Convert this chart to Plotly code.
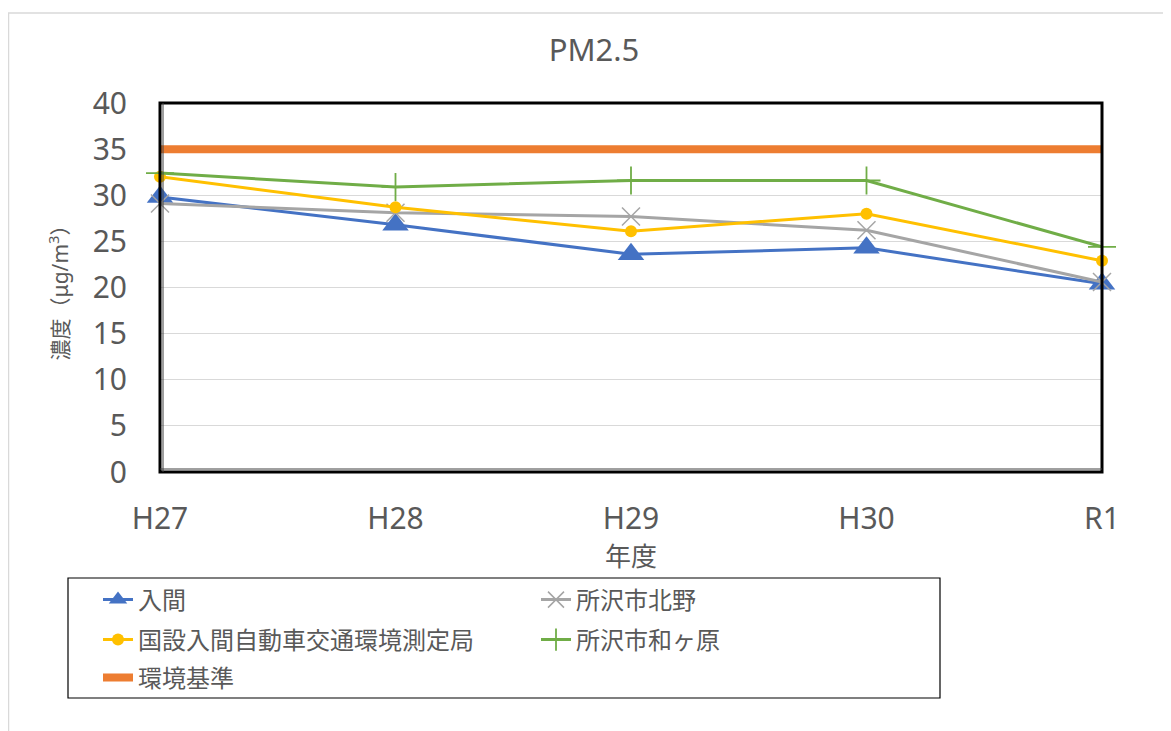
import plotly.graph_objects as go

# ── data ──────────────────────────────────────────────────────────────────────
years = ["H27", "H28", "H29", "H30", "R1"]

iruma = [29.8, 26.8, 23.6, 24.3, 20.4]
kitano = [29.1, 28.1, 27.7, 26.2, 20.6]
kokusetsu = [32.0, 28.7, 26.1, 28.0, 22.9]
wagahara = [32.4, 30.9, 31.6, 31.6, 24.4]
standard = [35, 35, 35, 35, 35]

# ── layout helpers ────────────────────────────────────────────────────────────
# the page body has an 8px margin, so the figure is drawn 8px in from the edge
OFF = 8
W, H = 1171 - OFF, 731 - OFF
L, R, T, B = 160 - OFF, 1102 - OFF, 103 - OFF, 472 - OFF


def px(x):
    """screen x pixel -> paper x"""
    return (x - OFF - L) / (R - L)


def py(y):
    """screen y pixel -> paper y"""
    return (B - (y - OFF)) / (B - T)


FONT = "Noto Sans, Noto Sans CJK JP, sans-serif"
GREY_TXT = "#595959"

fig = go.Figure()

fig.add_trace(go.Scatter(
    x=years, y=iruma, name="入間", mode="lines+markers",
    line=dict(color="#4472C4", width=3),
    marker=dict(symbol="triangle-up", size=23, color="#4472C4"),
    cliponaxis=False, legend="legend",
))
fig.add_trace(go.Scatter(
    x=years, y=kitano, name="所沢市北野", mode="lines+markers",
    line=dict(color="#A5A5A5", width=3),
    marker=dict(symbol="x-thin", size=18, line=dict(color="#A5A5A5", width=1.5)),
    cliponaxis=False, legend="legend",
))
fig.add_trace(go.Scatter(
    x=years, y=kokusetsu, name="国設入間自動車交通環境測定局", mode="lines+markers",
    line=dict(color="#FFC000", width=3),
    marker=dict(symbol="circle", size=12, color="#FFC000"),
    cliponaxis=False, legend="legend2",
))
fig.add_trace(go.Scatter(
    x=years, y=wagahara, name="所沢市和ヶ原", mode="lines+markers",
    line=dict(color="#70AD47", width=3),
    marker=dict(symbol="cross-thin", size=20, line=dict(color="#70AD47", width=1.8)),
    cliponaxis=False, legend="legend2",
))
fig.add_trace(go.Scatter(
    x=years, y=standard, name="環境基準", mode="lines",
    line=dict(color="#ED7D31", width=8),
    legend="legend3",
))

leg_common = dict(
    orientation="h", entrywidth=393, entrywidthmode="pixels",
    xanchor="left", yanchor="middle", x=px(98),
    font=dict(family=FONT, size=24, color=GREY_TXT),
    bgcolor="rgba(0,0,0,0)", borderwidth=0,
)

fig.update_layout(
    width=W, height=H,
    margin=dict(l=L, r=W - R, t=T, b=H - B),
    paper_bgcolor="white", plot_bgcolor="white",
    font=dict(family=FONT, color=GREY_TXT),
    title=dict(
        text="PM2.5", x=(594 - OFF) / W, xref="container", xanchor="center",
        y=1 - (50 - OFF) / H, yref="container", yanchor="middle",
        font=dict(family=FONT, size=31, color=GREY_TXT),
    ),
    xaxis=dict(
        type="category", range=[0, len(years) - 1],
        showgrid=False, zeroline=False, showline=False,
        tickfont=dict(size=30, color=GREY_TXT), ticks="",
        ticklabelstandoff=26,
        title=dict(text="年度", font=dict(size=26, color=GREY_TXT), standoff=0),
    ),
    yaxis=dict(
        range=[0, 40], dtick=5, tick0=0,
        showgrid=True, gridcolor="#D9D9D9", gridwidth=1,
        zeroline=False, showline=False,
        tickfont=dict(size=30, color=GREY_TXT), ticks="",
        ticklabelstandoff=32,
        title=dict(text="濃度（μg/m<sup>3</sup>）", font=dict(size=21, color=GREY_TXT),
                   standoff=18),
    ),
    legend=dict(leg_common, y=py(600)),
    legend2=dict(leg_common, y=py(640)),
    legend3=dict(leg_common, y=py(678)),
    shapes=[
        # outer chart border
        dict(type="rect", xref="paper", yref="paper",
             x0=px(8.5), y0=py(740), x1=px(1180), y1=py(13),
             line=dict(color="#D9D9D9", width=1.5), layer="below"),
        # plot area frame
        dict(type="rect", xref="paper", yref="paper",
             x0=0, y0=0, x1=1, y1=1,
             line=dict(color="black", width=3)),
        # inner axis lines
        dict(type="line", xref="paper", yref="paper",
             x0=px(163), y0=0, x1=px(163), y1=1,
             line=dict(color="#404040", width=1)),
        dict(type="line", xref="paper", yref="paper",
             x0=0, y0=py(469), x1=1, y1=py(469),
             line=dict(color="#404040", width=1)),
        # legend box
        dict(type="rect", xref="paper", yref="paper",
             x0=px(68), y0=py(698), x1=px(940), y1=py(578),
             line=dict(color="black", width=1.2)),
    ],
)

fig.write_html("out.html")
